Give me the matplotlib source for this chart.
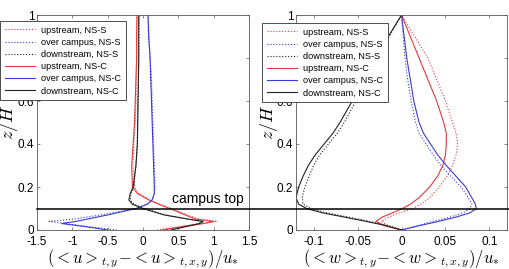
import numpy as np
import matplotlib.pyplot as plt
from matplotlib.lines import Line2D
from matplotlib.transforms import blended_transform_factory

plt.rcParams['font.family'] = ['Liberation Sans', 'DejaVu Sans']
plt.rcParams['mathtext.fontset'] = 'cm'
plt.rcParams['axes.unicode_minus'] = False

labels = ["upstream, NS-S", "over campus, NS-S", "downstream, NS-S",
          "upstream, NS-C", "over campus, NS-C", "downstream, NS-C"]

# left panel: streamwise velocity deviation
z_u = [0, 0.015, 0.03, 0.04, 0.05, 0.07, 0.1, 0.12, 0.14, 0.17, 0.2,
       0.3, 0.4, 0.5, 0.6, 0.7, 0.8, 0.9, 1.0]
u_up_s = [0.2, 0.5, 0.85, 1.05, 0.8, 0.62, 0.4, 0.24, 0.1, -0.06, -0.12,
          -0.14, -0.13, -0.11, -0.1, -0.095, -0.09, -0.088, -0.085]
u_over_s = [-0.37, -0.75, -1.1, -1.33, -1.0, -0.6, -0.1, 0.06, 0.13, 0.16, 0.17,
            0.16, 0.15, 0.14, 0.13, 0.12, 0.1, 0.085, 0.075]
u_down_s = [0.3, 0.55, 0.78, 0.85, 0.65, 0.32, 0.02, -0.13, -0.18, -0.17, -0.13,
            -0.1, -0.08, -0.075, -0.07, -0.065, -0.06, -0.06, -0.055]
u_up_c = [0.27, 0.55, 0.85, 1.0, 0.75, 0.6, 0.38, 0.22, 0.08, -0.08, -0.15,
          -0.16, -0.14, -0.12, -0.11, -0.1, -0.09, -0.09, -0.085]
u_over_c = [-0.5, -0.8, -1.15, -0.95, -0.8, -0.5, -0.1, 0.06, 0.13, 0.16, 0.16,
            0.15, 0.14, 0.13, 0.12, 0.11, 0.1, 0.08, 0.07]
u_down_c = [0.4, 0.6, 0.8, 0.85, 0.65, 0.3, 0.0, -0.15, -0.2, -0.18, -0.14,
            -0.1, -0.08, -0.075, -0.07, -0.065, -0.06, -0.06, -0.06]

# right panel: vertical velocity deviation
z_w = [0, 0.02, 0.04, 0.06, 0.08, 0.1, 0.12, 0.15, 0.2, 0.25, 0.3, 0.35,
       0.4, 0.45, 0.5, 0.6, 0.7, 0.8, 0.9, 1.0]
w_up_s = [0, -0.015, -0.023, -0.015, -0.002, 0.013, 0.022, 0.032, 0.043, 0.052,
          0.058, 0.062, 0.064, 0.062, 0.058, 0.05, 0.04, 0.03, 0.015, 0]
w_over_s = [0, 0.018, 0.036, 0.055, 0.07, 0.078, 0.08, 0.076, 0.068, 0.056,
            0.045, 0.036, 0.028, 0.02, 0.016, 0.011, 0.007, 0.004, 0.002, 0]
w_down_s = [0, -0.015, -0.036, -0.06, -0.085, -0.103, -0.112, -0.113, -0.11, -0.105,
            -0.1, -0.093, -0.083, -0.073, -0.065, -0.052, -0.04, -0.027, -0.014, 0]
w_up_c = [0, -0.02, -0.029, -0.022, -0.01, 0.001, 0.01, 0.02, 0.032, 0.041,
          0.047, 0.05, 0.051, 0.051, 0.048, 0.04, 0.03, 0.02, 0.01, 0]
w_over_c = [0, 0.02, 0.042, 0.062, 0.078, 0.085, 0.084, 0.08, 0.073, 0.062,
            0.051, 0.041, 0.033, 0.025, 0.02, 0.014, 0.01, 0.006, 0.003, 0]
w_down_c = [0, -0.017, -0.04, -0.065, -0.09, -0.108, -0.117, -0.12, -0.117, -0.112,
            -0.106, -0.098, -0.088, -0.078, -0.07, -0.056, -0.043, -0.029, -0.015, 0]

campus_top = 0.1

red, blue, black = '#e8373c', '#3b3bd6', '#222222'
styles = [(red, ':'), (blue, ':'), (black, ':'), (red, '-'), (blue, '-'), (black, '-')]

fig = plt.figure(figsize=(5.09, 2.69), dpi=100)
ax1 = fig.add_axes([37 / 509, 39 / 269, 212 / 509, 215 / 269])
ax2 = fig.add_axes([296 / 509, 39 / 269, 211 / 509, 215 / 269])

u_data = [u_up_s, u_over_s, u_down_s, u_up_c, u_over_c, u_down_c]
w_data = [w_up_s, w_over_s, w_down_s, w_up_c, w_over_c, w_down_c]

for (c, ls), u, lab in zip(styles, u_data, labels):
    ax1.plot(u, z_u, color=c, ls=ls, lw=0.8, label=lab)
for (c, ls), w, lab in zip(styles, w_data, labels):
    ax2.plot(w, z_w, color=c, ls=ls, lw=0.8, label=lab)

ax1.set_xlim(-1.5, 1.5)
ax1.set_xticks([-1.5, -1, -0.5, 0, 0.5, 1, 1.5])
ax1.set_xticklabels(["-1.5", "-1", "-0.5", "0", "0.5", "1", "1.5"])
ax2.set_xlim(-0.12, 0.12)
ax2.set_xticks([-0.1, -0.05, 0, 0.05, 0.1])
ax2.set_xticklabels(["-0.1", "-0.05", "0", "0.05", "0.1"])

for ax in (ax1, ax2):
    ax.set_ylim(0, 1)
    ax.set_yticks([0, 0.2, 0.4, 0.6, 0.8, 1])
    ax.set_yticklabels(["0", "0.2", "0.4", "0.6", "0.8", "1"])
    ax.tick_params(direction='in', top=True, right=True, labelsize=8.5,
                   length=2.5, width=0.5, color='0.35')
    ax.tick_params(axis='x', pad=4)
    ax.tick_params(axis='y', pad=2)
    for sp in ax.spines.values():
        sp.set_linewidth(0.6)
        sp.set_color('0.35')
    ax.set_ylabel(r'$z/H$', fontsize=13, labelpad=-2)

ax1.set_xlabel(r'$(<u>_{t,y}\!-\!<u>_{t,x,y})/u_{*}$', fontsize=12, labelpad=0)
ax2.set_xlabel(r'$(<w>_{t,y}\!-\!<w>_{t,x,y})/u_{*}$', fontsize=12, labelpad=0)

# campus-top line across both panels
tr = blended_transform_factory(fig.transFigure, ax1.transData)
fig.add_artist(Line2D([37 / 509, 1.0], [campus_top, campus_top], transform=tr,
                      color='black', lw=1.1))
ax1.text(1.42, campus_top + 0.012, 'campus top', ha='right', va='bottom', fontsize=10)

leg_kw = dict(loc='upper left', fontsize=6.6, frameon=True, fancybox=False,
              edgecolor='0.3', framealpha=1, borderaxespad=0, handlelength=3.3,
              handletextpad=0.7, labelspacing=0.35, borderpad=0.5)
l1 = ax1.legend(bbox_to_anchor=(0.0, 1 - 21 / 269), bbox_transform=fig.transFigure, **leg_kw)
l2 = ax2.legend(bbox_to_anchor=(262 / 509, 1 - 23 / 269), bbox_transform=fig.transFigure, **leg_kw)
for l in (l1, l2):
    l.get_frame().set_linewidth(0.7)
    l.set_zorder(10)

fig.savefig("out.png", dpi=100)
